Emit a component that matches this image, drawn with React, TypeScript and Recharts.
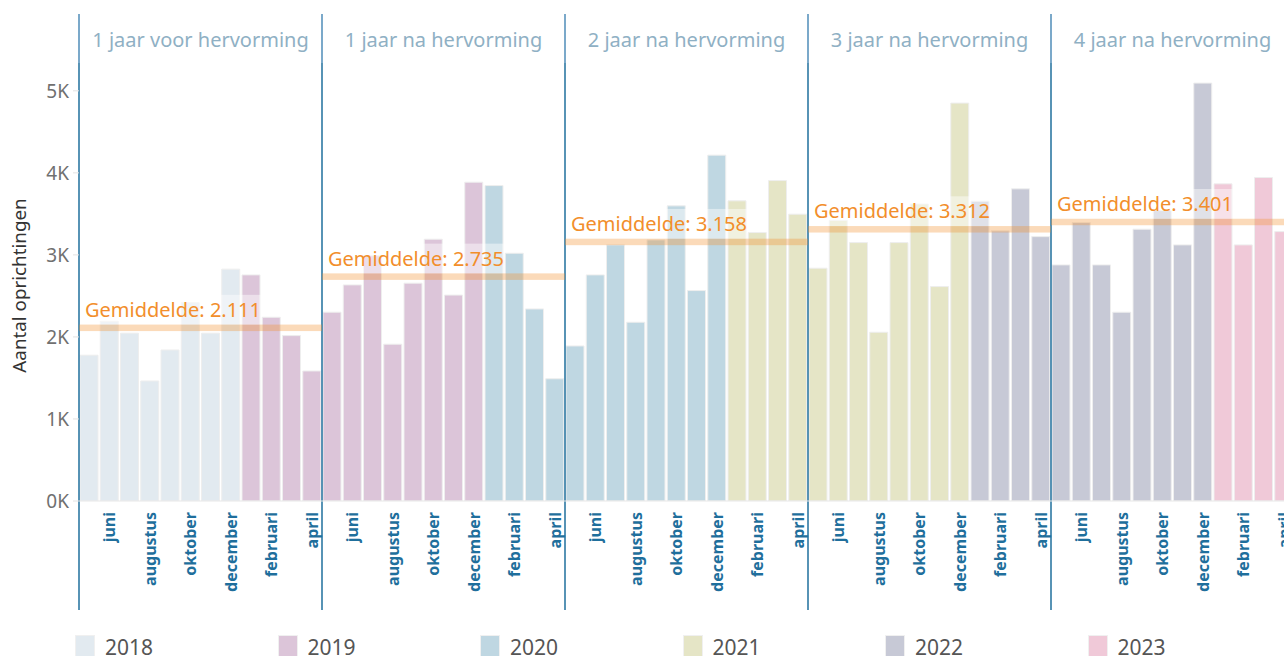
import React from 'react';
import { ComposedChart, Bar, Cell, XAxis, YAxis, ReferenceArea } from 'recharts';

const years = ['2018', '2019', '2020', '2021', '2022', '2023'];
const yearColors = ['#e2eaf0', '#dcc5d9', '#bfd7e2', '#e5e5c6', '#c7c9d6', '#f0c9d8'];
const monthNames = ['mei', 'juni', 'juli', 'augustus', 'september', 'oktober', 'november', 'december', 'januari', 'februari', 'maart', 'april'];
const shownMonths = ['juni', 'augustus', 'oktober', 'december', 'februari', 'april'];
const panelTitles = ['1 jaar voor hervorming', '1 jaar na hervorming', '2 jaar na hervorming', '3 jaar na hervorming', '4 jaar na hervorming'];
const panelAverages = [2111, 2735, 3158, 3312, 3401];
const panelAverageLabels = ['Gemiddelde: 2.111', 'Gemiddelde: 2.735', 'Gemiddelde: 3.158', 'Gemiddelde: 3.312', 'Gemiddelde: 3.401'];

const panel1Values = [1777, 2190, 2045, 1463, 1841, 2418, 2045, 2826, 2756, 2240, 2016, 1585];
const panel2Values = [2301, 2634, 2990, 1911, 2655, 3191, 2510, 3886, 3845, 3020, 2341, 1490];
const panel3Values = [1890, 2756, 3122, 2179, 3183, 3598, 2565, 4216, 3659, 3272, 3906, 3496];
const panel4Values = [2838, 3420, 3150, 2057, 3150, 3620, 2614, 4850, 3655, 3293, 3805, 3223];
const panel5Values = [2878, 3394, 2878, 2301, 3313, 3540, 3122, 5094, 3866, 3122, 3943, 3284];
const panelValues = [panel1Values, panel2Values, panel3Values, panel4Values, panel5Values];

const yTicks = [0, 1000, 2000, 3000, 4000, 5000];

type Row = { key: string; month: string; year: number; v: number };
const data: Row[] = [];
panelValues.forEach((vals, p) => {
  vals.forEach((v, m) => {
    data.push({ key: `${p}-${m}`, month: monthNames[m], year: 2018 + p + (m >= 8 ? 1 : 0), v });
  });
});
const monthOfKey: Record<string, string> = {};
data.forEach((d) => { monthOfKey[d.key] = d.month; });

const FONT = '"Noto Sans", "Open Sans", sans-serif';

const MonthTick = (props: any) => {
  const { x, y, payload } = props;
  const m = monthOfKey[payload.value];
  if (!shownMonths.includes(m)) return <g />;
  return (
    <text
      x={x}
      y={y}
      transform={`rotate(-90 ${x} ${y})`}
      textAnchor="end"
      dy="0.36em"
      fontSize={16}
      fontWeight={700}
      fill="#1f6f9c"
      fontFamily={FONT}
    >
      {m}
    </text>
  );
};

const makeFrame = (title: string) => (props: any) => {
  const { x, y, width, height } = props;
  return (
    <g>
      <line x1={x} x2={x} y1={y - 44} y2={y + 5} stroke="#4f8db8" strokeWidth={1.5} />
      <line x1={x} x2={x} y1={y + 5} y2={y + height + 109} stroke="#1f6f9c" strokeWidth={1.5} />
      <text x={x + width / 2} y={y - 11} textAnchor="middle" fontSize={20} fill="#8fb0c4" fontFamily={FONT}>
        {title}
      </text>
    </g>
  );
};

const makeAverage = (label: string) => (props: any) => {
  const { x, y, width, height } = props;
  const cy = y + height / 2;
  const textW = label.length * 10.4;
  return (
    <g>
      <rect x={x + 1} y={cy - 33} width={textW + 4} height={30} fill="#ffffff" fillOpacity={0.45} />
      <rect x={x} y={cy - 3.25} width={width} height={6.5} fill="#f28e2b" fillOpacity={0.33} />
      <text x={x + 6} y={cy - 11} fontSize={20} fill="#f28e2b" fontFamily={FONT}>
        {label}
      </text>
    </g>
  );
};

const YTitle = (props: any) => {
  const vb = props.viewBox || { x: 0, y: 58, width: 79, height: 443 };
  const cx = vb.x + 19;
  const cy = vb.y + vb.height / 2 + 6;
  return (
    <text x={cx} y={cy} transform={`rotate(-90 ${cx} ${cy})`} textAnchor="middle" dy="0.36em" fontSize={18.8} fill="#333333" fontFamily={FONT}>
      Aantal oprichtingen
    </text>
  );
};

export default function App() {
  return (
    <div style={{ position: 'absolute', left: 0, top: 0, width: 1284, height: 656, overflow: 'hidden', background: '#fff', fontFamily: FONT }}>
      <ComposedChart
        width={1300}
        height={656}
        data={data}
        margin={{ top: 58, right: 6, left: 0, bottom: 0 }}
        barCategoryGap={1}
      >
        <XAxis
          dataKey="key"
          interval={0}
          height={155}
          tickLine={false}
          tickSize={0}
          tickMargin={11}
          axisLine={{ stroke: '#e8e8e8' }}
          tick={<MonthTick />}
        />
        <YAxis
          width={79}
          domain={[0, 5400]}
          ticks={yTicks}
          allowDataOverflow
          tickFormatter={(v: number) => `${v / 1000}K`}
          axisLine={false}
          tickLine={{ stroke: '#e2e2e2' }}
          tickSize={6}
          tickMargin={4}
          tick={{ fontSize: 19, fill: '#707070', fontFamily: FONT }}
          label={(p: any) => <YTitle {...p} />}
        />
        <Bar dataKey="v" isAnimationActive={false} stroke="#eeeeee" strokeWidth={1}>
          {data.map((d) => (
            <Cell key={d.key} fill={yearColors[years.indexOf(String(d.year))]} />
          ))}
        </Bar>
        {panelTitles.map((t, p) => (
          <ReferenceArea
            key={`frame-${p}`}
            x1={`${p}-0`}
            x2={`${p}-11`}
            y1={0}
            y2={5400}
            ifOverflow="visible"
            zIndex={450}
            shape={makeFrame(t)}
          />
        ))}
        {panelAverages.map((a, p) => (
          <ReferenceArea
            key={`avg-${p}`}
            x1={`${p}-0`}
            x2={`${p}-11`}
            y1={a - 20}
            y2={a + 20}
            ifOverflow="visible"
            zIndex={460}
            shape={makeAverage(panelAverageLabels[p])}
          />
        ))}
      </ComposedChart>
      <div style={{ position: 'absolute', left: 75, top: 635, display: 'flex' }}>
        {years.map((y, i) => (
          <div key={y} style={{ width: 202.5, display: 'flex', alignItems: 'flex-start' }}>
            <div style={{ width: 20, height: 24, background: yearColors[i], boxShadow: 'inset 0 0 0 1px #f0f0f0' }} />
            <div style={{ marginLeft: 10, fontSize: 21, lineHeight: '24px', color: '#555555' }}>{y}</div>
          </div>
        ))}
      </div>
    </div>
  );
}
